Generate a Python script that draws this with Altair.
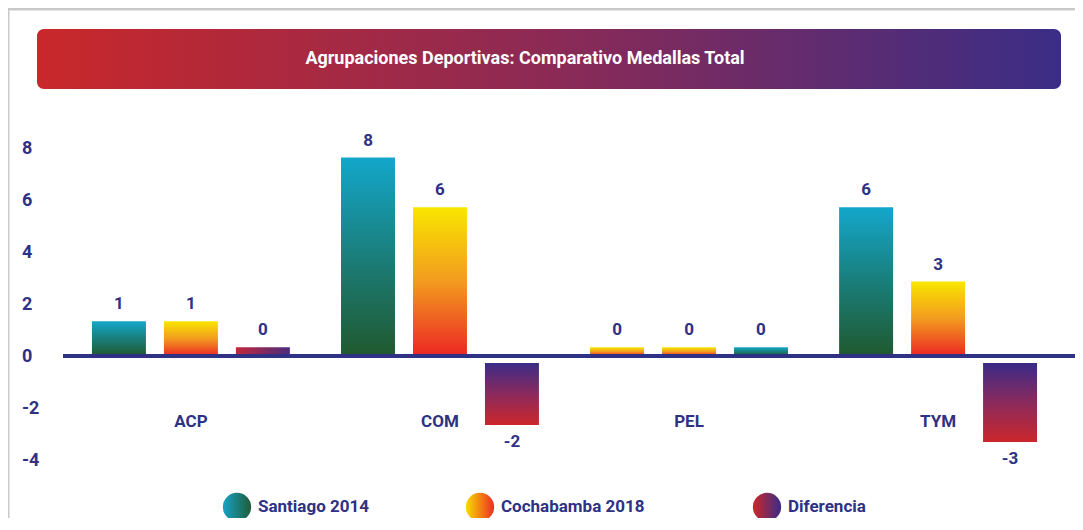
import altair as alt
import pandas as pd

categories = ["ACP", "COM", "PEL", "TYM"]
series = ["Santiago 2014", "Cochabamba 2018", "Diferencia"]
santiago = [1, 8, 0, 6]
cochabamba = [1, 6, 0, 3]
diferencia = [0, -2, 0, -3]
# bar lengths as they are drawn in the picture
santiago_bar = [1.4, 8, 0.35, 6]
cochabamba_bar = [1.4, 6, 0.35, 3]
diferencia_bar = [0.35, -2.78, 0.35, -3.47]
y_ticks = [8, 6, 4, 2, 0, -2, -4]
title = "Agrupaciones Deportivas: Comparativo Medallas Total"

NAVY = "#2e3184"
FONT = "Roboto, Liberation Sans, DejaVu Sans, sans-serif"


def grad(stops, horizontal=False):
    return alt.LinearGradient(
        gradient="linear",
        x1=0, y1=0,
        x2=1 if horizontal else 0,
        y2=0 if horizontal else 1,
        stops=[alt.GradientStop(color=c, offset=o) for c, o in stops],
    )


fills = {
    "teal": grad([("#13a7cb", 0), ("#1a7e7a", 0.5), ("#20592f", 1)]),
    "orange": grad([("#f9e600", 0), ("#f29b1f", 0.5), ("#ec2624", 1)]),
    "diff": grad([("#3a2b87", 0), ("#8b2a5d", 0.5), ("#cb272b", 1)]),
    "diff_h": grad([("#c2283a", 0), ("#7a2a62", 0.6), ("#4a2c80", 1)], True),
}
legend_fills = {
    "Santiago 2014": grad([("#16a3c6", 0), ("#1f5c38", 1)], True),
    "Cochabamba 2018": grad([("#f8dc00", 0), ("#ee2c24", 1)], True),
    "Diferencia": grad([("#cc2829", 0), ("#3a2b87", 1)], True),
}
series_fill = {"Santiago 2014": "teal", "Cochabamba 2018": "orange", "Diferencia": "diff"}
fill_override = {("ACP", "Diferencia"): "diff_h",
                 ("PEL", "Santiago 2014"): "orange",
                 ("PEL", "Diferencia"): "teal"}

rows = []
for s, vals, bars in [("Santiago 2014", santiago, santiago_bar),
                      ("Cochabamba 2018", cochabamba, cochabamba_bar),
                      ("Diferencia", diferencia, diferencia_bar)]:
    for c, v, b in zip(categories, vals, bars):
        rows.append({"cat": c, "serie": s, "label": str(v), "top": b,
                     "base": 0 if b > 0 else -0.28,
                     "fill": fill_override.get((c, s), series_fill[s])})
df = pd.DataFrame(rows)

W, H = 1067, 510
# scale of the bars (zero at 348 px, 24.8 px per unit)
y_scale = alt.Scale(domain=[-(H - 348) / 24.8, 348 / 24.8], nice=False, zero=False)
# the tick labels in the picture follow a slightly different spacing
tick_scale = alt.Scale(domain=[-(H - 348.5) / 26.0, 348.5 / 26.0], nice=False, zero=False)

x_enc = alt.X("cat:N", sort=categories, axis=None,
              scale=alt.Scale(domain=categories, range=[0, 1113],
                              paddingInner=0.133, paddingOuter=0.301))
xo_enc = alt.XOffset("serie:N", sort=series,
                     scale=alt.Scale(domain=series, paddingInner=0.25, paddingOuter=0.125))

one = alt.Data(values=[{"a": 1}])

frame_left = alt.Chart(one).mark_rule(color="#c9c9c9", strokeWidth=3).encode(
    x=alt.value(0), y=alt.value(0), y2=alt.value(H))
frame_top = alt.Chart(one).mark_rule(color="#c9c9c9", strokeWidth=3).encode(
    x=alt.value(0), x2=alt.value(W), y=alt.value(1))

banner = alt.Chart(one).mark_rect(
    cornerRadius=7,
    fill=grad([("#c9282a", 0), ("#8c2a55", 0.5), ("#3a2d86", 1)], True),
).encode(x=alt.value(29), x2=alt.value(1053), y=alt.value(21), y2=alt.value(81))
banner_text = alt.Chart(one).mark_text(
    text=title, font=FONT, fontSize=18, fontWeight="bold", color="white",
    align="center", baseline="middle",
).encode(x=alt.value(517), y=alt.value(51))

bar_layers = []
for key, g in fills.items():
    bar_layers.append(
        alt.Chart(df).transform_filter(alt.datum.fill == key)
        .mark_bar(fill=g, strokeWidth=0)
        .encode(x=x_enc, xOffset=xo_enc,
                y=alt.Y("top:Q", scale=y_scale, axis=None), y2=alt.Y2("base:Q"))
    )

label_style = dict(font=FONT, fontSize=17, fontWeight="bold", color=NAVY,
                   align="center", baseline="middle")
pos_labels = alt.Chart(df).transform_filter(alt.datum.top > 0).mark_text(
    dy=-17, **label_style).encode(
    x=x_enc, xOffset=xo_enc, y=alt.Y("top:Q", scale=y_scale, axis=None), text="label:N")
neg_labels = alt.Chart(df).transform_filter(alt.datum.top < 0).mark_text(
    dy=17, **label_style).encode(
    x=x_enc, xOffset=xo_enc, y=alt.Y("top:Q", scale=y_scale, axis=None), text="label:N")

cat_labels = alt.Chart(pd.DataFrame({"cat": categories})).mark_text(
    **label_style).encode(x=x_enc, y=alt.value(414), text="cat:N")

tick_labels = alt.Chart(pd.DataFrame({"v": y_ticks, "t": [str(t) for t in y_ticks]})).mark_text(
    font=FONT, fontSize=18, fontWeight="bold", color=NAVY, align="left", baseline="middle"
).encode(x=alt.value(14), y=alt.Y("v:Q", scale=tick_scale, axis=None), text="t:N")

zero_line = alt.Chart(pd.DataFrame({"v": [0]})).mark_rule(color=NAVY, strokeWidth=4).encode(
    x=alt.value(55), x2=alt.value(W), y=alt.Y("v:Q", scale=y_scale, axis=None))

legend_layers = []
circle_x = [229, 472, 759]
for s, cx in zip(series, circle_x):
    legend_layers.append(alt.Chart(one).mark_point(
        shape="circle", filled=True, fill=legend_fills[s], size=800, opacity=1, strokeWidth=0
    ).encode(x=alt.value(cx), y=alt.value(499)))
    legend_layers.append(alt.Chart(one).mark_text(
        text=s, font=FONT, fontSize=17, fontWeight="bold", color=NAVY,
        align="left", baseline="middle").encode(x=alt.value(cx + 21), y=alt.value(499)))

chart = alt.layer(
    frame_left, frame_top, banner, banner_text, *bar_layers, zero_line,
    pos_labels, neg_labels, cat_labels, tick_labels, *legend_layers,
).resolve_scale(y="independent").properties(
    width=W, height=H, padding=0, background="white",
    autosize=alt.AutoSizeParams(type="none"),
).configure_view(strokeWidth=0)

chart.save("out.html", embed_options={"renderer": "svg", "actions": False})
